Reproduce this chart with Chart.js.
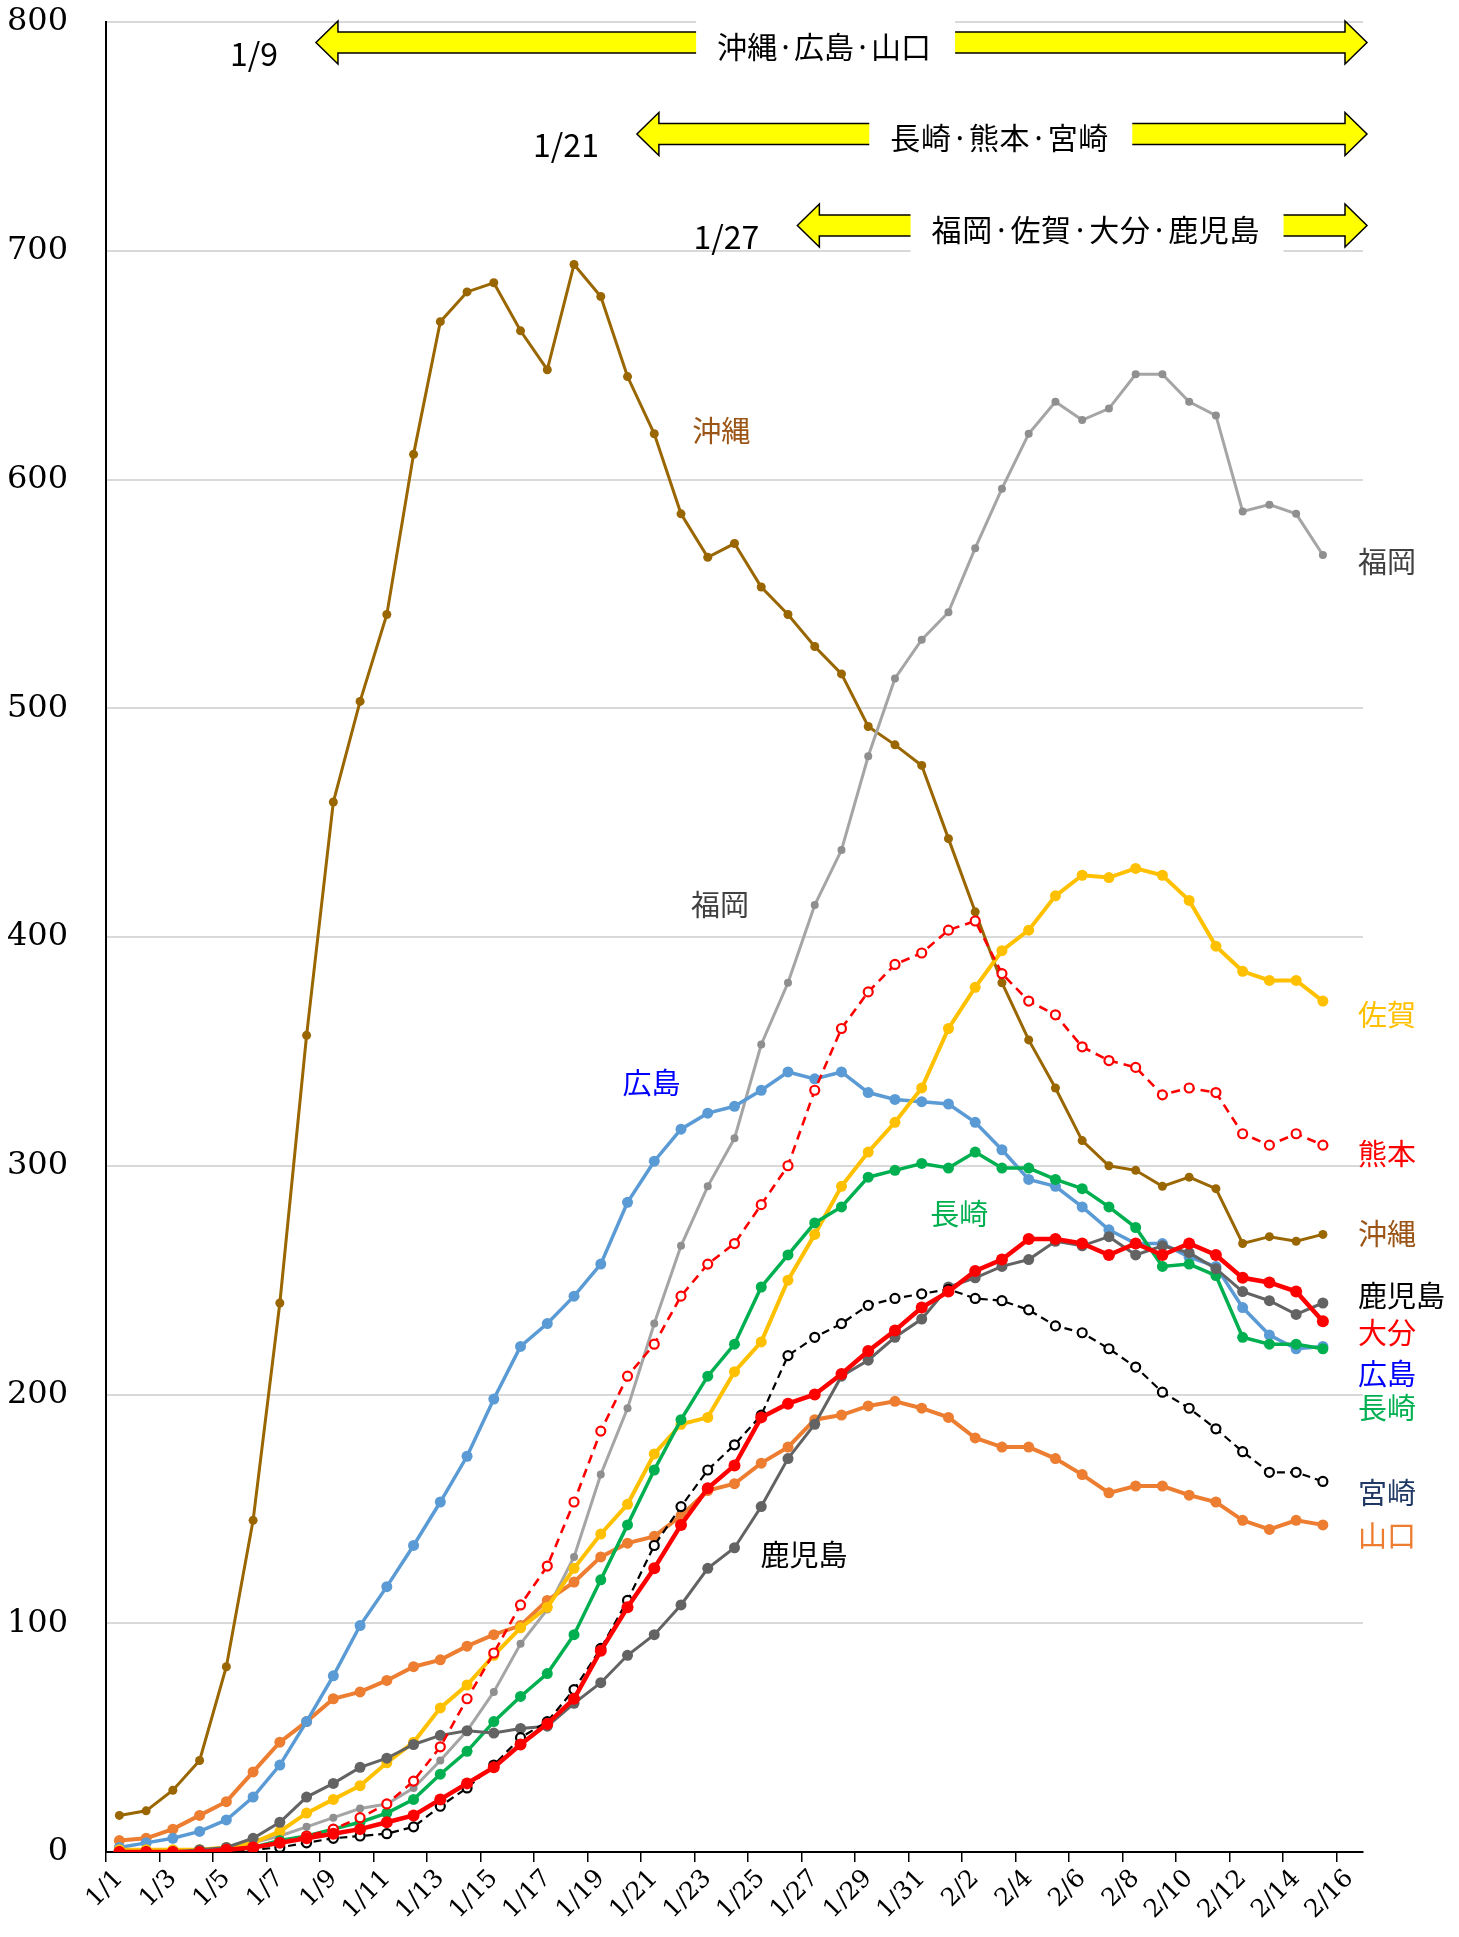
<!DOCTYPE html>
<html>
<head>
<meta charset="utf-8">
<script src="https://cdn.jsdelivr.net/npm/chart.js@4.4.1/dist/chart.umd.min.js"></script>
<style>
    body { margin: 0; background: #ffffff; }
    #contenedor { width: 1459px; height: 1937px; }
</style>
</head>
<body>
<div id="contenedor"><canvas id="graficoKyushu"></canvas></div>
<script>
// Fechas (eje x)
const fechas = [
    '1/1', '1/2', '1/3', '1/4', '1/5', '1/6', '1/7', '1/8', '1/9', '1/10',
    '1/11', '1/12', '1/13', '1/14', '1/15', '1/16', '1/17', '1/18', '1/19', '1/20',
    '1/21', '1/22', '1/23', '1/24', '1/25', '1/26', '1/27', '1/28', '1/29', '1/30',
    '1/31', '2/1', '2/2', '2/3', '2/4', '2/5', '2/6', '2/7', '2/8', '2/9',
    '2/10', '2/11', '2/12', '2/13', '2/14', '2/15', '2/16'
];

// Valores por prefectura (1/1 - 2/15)
const okinawa = [16, 18, 27, 40, 81, 145, 240, 357, 459, 503, 541, 611, 669, 682, 686, 665, 648, 694, 680, 645, 620, 585, 566, 572, 553, 541, 527, 515, 492, 484, 475, 443, 411, 380, 355, 334, 311, 300, 298, 291, 295, 290, 266, 269, 267, 270];
const fukuoka = [0, 0, 0, 1, 2, 4, 7, 11, 15, 19, 21, 28, 40, 53, 70, 91, 106, 129, 165, 194, 231, 265, 291, 312, 353, 380, 414, 438, 479, 513, 530, 542, 570, 596, 620, 634, 626, 631, 646, 646, 634, 628, 586, 589, 585, 567];
const hiroshima = [2, 4, 6, 9, 14, 24, 38, 57, 77, 99, 116, 134, 153, 173, 198, 221, 231, 243, 257, 284, 302, 316, 323, 326, 333, 341, 338, 341, 332, 329, 328, 327, 319, 307, 294, 291, 282, 272, 266, 266, 260, 256, 238, 226, 220, 221];
const yamaguchi = [5, 6, 10, 16, 22, 35, 48, 57, 67, 70, 75, 81, 84, 90, 95, 99, 110, 118, 129, 135, 138, 147, 158, 161, 170, 177, 189, 191, 195, 197, 194, 190, 181, 177, 177, 172, 165, 157, 160, 160, 156, 153, 145, 141, 145, 143];
const saga = [1, 1, 1, 1, 2, 4, 9, 17, 23, 29, 39, 48, 63, 73, 86, 98, 107, 124, 139, 152, 174, 187, 190, 210, 223, 250, 270, 291, 306, 319, 334, 360, 378, 394, 403, 418, 427, 426, 430, 427, 416, 396, 385, 381, 381, 372];
const kumamoto = [0, 0, 0, 0, 1, 2, 4, 7, 10, 15, 21, 31, 46, 67, 87, 108, 125, 153, 184, 208, 222, 243, 257, 266, 283, 300, 333, 360, 376, 388, 393, 403, 407, 384, 372, 366, 352, 346, 343, 331, 334, 332, 314, 309, 314, 309];
const nagasaki = [0, 0, 0, 0, 1, 2, 5, 7, 10, 13, 17, 23, 34, 44, 57, 68, 78, 95, 119, 143, 167, 189, 208, 222, 247, 261, 275, 282, 295, 298, 301, 299, 306, 299, 299, 294, 290, 282, 273, 256, 257, 252, 225, 222, 222, 220];
const oita = [0, 0, 0, 0, 1, 2, 4, 6, 8, 10, 13, 16, 23, 30, 37, 47, 56, 67, 88, 107, 124, 143, 159, 169, 190, 196, 200, 209, 219, 228, 238, 245, 254, 259, 268, 268, 266, 261, 266, 261, 266, 261, 251, 249, 245, 232];
const kagoshima = [0, 0, 0, 1, 2, 6, 13, 24, 30, 37, 41, 47, 51, 53, 52, 54, 55, 65, 74, 86, 95, 108, 124, 133, 151, 172, 187, 208, 215, 225, 233, 247, 251, 256, 259, 267, 265, 269, 261, 265, 262, 255, 245, 241, 235, 240];
const miyazaki = [0, 0, 0, 0, 0, 1, 2, 4, 6, 7, 8, 11, 20, 28, 38, 50, 57, 71, 89, 110, 134, 151, 167, 178, 191, 217, 225, 231, 239, 242, 244, 246, 242, 241, 237, 230, 227, 220, 212, 201, 194, 185, 175, 166, 166, 162];

// Flechas de periodo
const flechaDesde = ['1/9', '1/21', '1/27'];
const flechaTexto = ['沖縄·広島·山口', '長崎·熊本·宮崎', '福岡·佐賀·大分·鹿児島'];

// Etiquetas a la derecha
const etiquetaDerecha = ['福岡', '佐賀', '熊本', '沖縄', '鹿児島', '大分', '広島', '長崎', '宮崎', '山口'];

const fuenteJp = '"Noto Sans CJK JP", "Noto Sans", sans-serif';

const linea = (label, data, color, ancho, radio, extra) => Object.assign({
    label: label,
    data: data,
    borderColor: color,
    backgroundColor: color,
    pointBackgroundColor: color,
    pointBorderColor: color,
    borderWidth: ancho,
    pointRadius: radio,
    pointBorderWidth: 0,
    tension: 0,
}, extra || {});

const data = {
    labels: fechas,
    datasets: [
        linea('大分', oita, '#FF0000', 4.5, 6),
        linea('宮崎', miyazaki, '#000000', 2.2, 4.5, {
            borderDash: [8, 5], pointBackgroundColor: '#FFFFFF', pointBorderWidth: 2.2
        }),
        linea('熊本', kumamoto, '#FF0000', 2.6, 4.5, {
            borderDash: [9, 6], pointBackgroundColor: '#FFFFFF', pointBorderWidth: 2.2
        }),
        linea('鹿児島', kagoshima, '#636363', 3, 5.5),
        linea('長崎', nagasaki, '#00B050', 3.5, 5.5),
        linea('佐賀', saga, '#FFC000', 4, 5.5),
        linea('広島', hiroshima, '#5B9BD5', 3.5, 5.5),
        linea('山口', yamaguchi, '#ED7D31', 4, 5.5),
        linea('福岡', fukuoka, '#A5A5A5', 3, 4, { pointBackgroundColor: '#8F8F8F', pointBorderColor: '#8F8F8F' }),
        linea('沖縄', okinawa, '#996600', 3, 4.5),
    ]
};

const dibujarFlecha = (ctx, xl, xr, cy) => {
    const punta = 22, mitadCabeza = 21.5, mitadBarra = 10.5;
    ctx.beginPath();
    ctx.moveTo(xl, cy);
    ctx.lineTo(xl + punta, cy - mitadCabeza);
    ctx.lineTo(xl + punta, cy - mitadBarra);
    ctx.lineTo(xr - punta, cy - mitadBarra);
    ctx.lineTo(xr - punta, cy - mitadCabeza);
    ctx.lineTo(xr, cy);
    ctx.lineTo(xr - punta, cy + mitadCabeza);
    ctx.lineTo(xr - punta, cy + mitadBarra);
    ctx.lineTo(xl + punta, cy + mitadBarra);
    ctx.lineTo(xl + punta, cy + mitadCabeza);
    ctx.closePath();
    ctx.fillStyle = '#FFFF00';
    ctx.fill();
    ctx.lineWidth = 1.5;
    ctx.strokeStyle = '#000000';
    ctx.stroke();
};

const anotaciones = {
    id: 'anotaciones',
    afterDraw(chart) {
        const { ctx, chartArea, scales } = chart;
        const x = scales.x, y = scales.y;
        const anchoCat = x.getPixelForValue(1) - x.getPixelForValue(0);

        // posicion (valor en y) y centro del texto (indice) de cada flecha
        const filaValor = [791, 751, 711];
        const centroTexto = [26.35, 32.9, 36.5];
        const anchoTexto = [214, 218, 328];

        ctx.save();
        for (let i = 0; i < flechaDesde.length; i++) {
            const xl = x.getPixelForValue(fechas.indexOf(flechaDesde[i])) - anchoCat / 2 - 4;
            const xr = chartArea.right + 4;
            const cy = y.getPixelForValue(filaValor[i]);
            dibujarFlecha(ctx, xl, xr, cy);

            // texto con fondo blanco
            ctx.font = '30px ' + fuenteJp;
            ctx.letterSpacing = '0px';
            const n = [...flechaTexto[i]].length;
            const medido = ctx.measureText(flechaTexto[i]).width;
            const espacio = (anchoTexto[i] - medido) / (n - 1);
            ctx.letterSpacing = espacio + 'px';
            const cx = x.getPixelForValue(centroTexto[i]);
            ctx.fillStyle = '#FFFFFF';
            ctx.fillRect(cx - anchoTexto[i] / 2 - 21, cy - 27, anchoTexto[i] + 45, 54);
            ctx.fillStyle = '#000000';
            ctx.textAlign = 'left';
            ctx.textBaseline = 'middle';
            ctx.fillText(flechaTexto[i], cx - anchoTexto[i] / 2, cy + 4);
            ctx.letterSpacing = '0px';

            // fecha de inicio
            ctx.font = '32px ' + fuenteJp;
            ctx.textAlign = 'right';
            ctx.fillText(flechaDesde[i], xl - 38, cy + 11);
        }

        // etiquetas dentro del grafico
        const internas = [
            { t: '沖縄', i: 22.5, v: 621, c: '#9B5516' },
            { t: '福岡', i: 22.46, v: 414, c: '#404040' },
            { t: '広島', i: 19.9, v: 336, c: '#0000FF' },
            { t: '長崎', i: 31.4, v: 279, c: '#00B050' },
            { t: '鹿児島', i: 25.6, v: 130, c: '#000000' },
        ];
        ctx.font = '29px ' + fuenteJp;
        ctx.textAlign = 'center';
        ctx.textBaseline = 'middle';
        internas.forEach(e => {
            ctx.fillStyle = e.c;
            ctx.fillText(e.t, x.getPixelForValue(e.i), y.getPixelForValue(e.v));
        });

        // etiquetas a la derecha
        const valorDerecha = [564, 366, 305, 270, 243, 227, 209, 194, 157, 138];
        const colorDerecha = ['#404040', '#FFC000', '#FF0000', '#9B5516', '#000000', '#FF0000', '#0000FF', '#00B050', '#203864', '#ED7D31'];
        ctx.textAlign = 'left';
        etiquetaDerecha.forEach((t, k) => {
            ctx.fillStyle = colorDerecha[k];
            ctx.fillText(t, chartArea.right - 5, y.getPixelForValue(valorDerecha[k]));
        });
        ctx.restore();
    }
};

const config = {
    type: 'line',
    data: data,
    options: {
        responsive: true,
        maintainAspectRatio: false,
        animation: false,
        layout: {
            padding: { left: 0, right: 96, top: 22, bottom: 0 }
        },
        plugins: {
            legend: { display: false },
            tooltip: { enabled: false },
            title: { display: false }
        },
        scales: {
            x: {
                offset: true,
                afterFit: (scale) => { scale.height = 85; },
                grid: {
                    offset: true,
                    drawOnChartArea: false,
                    drawTicks: true,
                    tickLength: 10,
                    lineWidth: 1.5,
                    color: (c) => (c.index % 2 === 0 ? '#000000' : 'rgba(0,0,0,0)')
                },
                border: { color: '#000000', width: 2 },
                ticks: {
                    autoSkip: false,
                    maxRotation: 45,
                    minRotation: 45,
                    padding: 2,
                    color: '#000000',
                    font: { family: '"DejaVu Serif", serif', size: 25 },
                    callback: function (value, index) {
                        return index % 2 === 0 ? fechas[index] : '';
                    }
                }
            },
            y: {
                min: 0,
                max: 800,
                afterFit: (scale) => { scale.width = 106; },
                grid: {
                    color: '#D9D9D9',
                    lineWidth: 2,
                    drawTicks: true,
                    tickLength: 38,
                    tickColor: 'rgba(0,0,0,0)'
                },
                border: { color: '#000000', width: 2 },
                ticks: {
                    stepSize: 100,
                    padding: 0,
                    color: '#000000',
                    font: { family: '"DejaVu Serif", serif', size: 32 }
                }
            }
        }
    },
    plugins: [anotaciones]
};

const grafico = new Chart(document.getElementById('graficoKyushu'), config);
</script>
</body>
</html>
